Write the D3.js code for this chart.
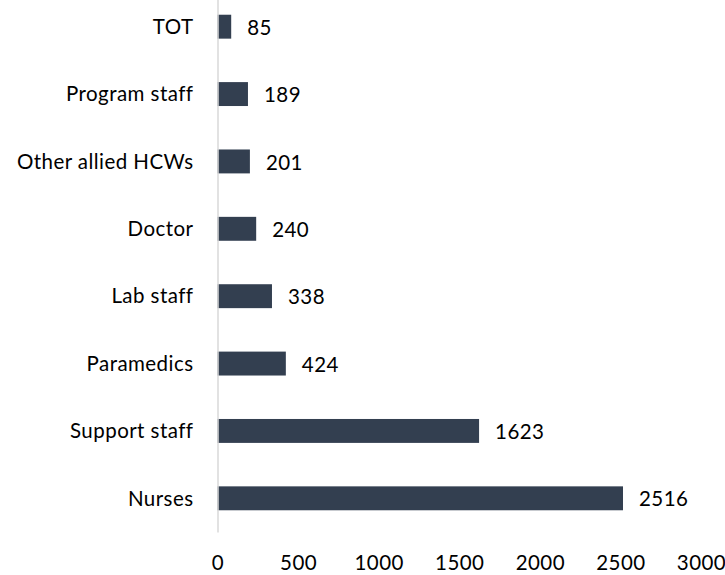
<!DOCTYPE html>
<html>
<head>
<meta charset="utf-8">
<script src="https://cdn.jsdelivr.net/npm/d3@7"></script>
<style>
  body { margin: 0; background: #fff; }
  svg text { font-family: Lato, "Open Sans", sans-serif; font-size: 20.5px; letter-spacing: 0.45px; fill: #000; }
</style>
</head>
<body>
<svg id="chart" width="725" height="575"></svg>
<script>
var categories = ["TOT", "Program staff", "Other allied HCWs", "Doctor", "Lab staff", "Paramedics", "Support staff", "Nurses"];
var values = [85, 189, 201, 240, 338, 424, 1623, 2516];
var xTicks = [0, 500, 1000, 1500, 2000, 2500, 3000];

var svg = d3.select("#chart");

var x = d3.scaleLinear()
    .domain([0, 3000])
    .range([217.5, 701]);
var y = d3.scaleBand()
    .domain(categories)
    .range([-7, 532])
    .paddingInner(0.645)
    .paddingOuter(0.3225);

var data = categories.map(function (c, i) { return { name: c, value: values[i] }; });

// bars
svg.append("g").selectAll("rect")
    .data(data)
    .enter().append("rect")
    .attr("x", x(0))
    .attr("y", function (d) { return y(d.name); })
    .attr("width", function (d) { return x(d.value) - x(0); })
    .attr("height", y.bandwidth())
    .attr("fill", "#333f50");

// value labels
svg.append("g").selectAll("text")
    .data(data)
    .enter().append("text")
    .attr("x", function (d) { return x(d.value) + 16; })
    .attr("y", function (d) { return y(d.name) + y.bandwidth() / 2 + 1; })
    .attr("dy", "0.35em")
    .text(function (d) { return d.value; });

// y axis
var yAxis = svg.append("g")
    .attr("transform", "translate(" + x(0) + ",0)")
    .call(d3.axisLeft(y).tickSize(0).tickPadding(24));
yAxis.select(".domain").attr("stroke", "#d9d9d9").attr("stroke-width", 1.5);
yAxis.selectAll("text")
    .attr("font-size", null).attr("font-family", null)
    .attr("dy", "0.35em");

// x axis labels only
var xAxis = svg.append("g")
    .attr("transform", "translate(0,545)")
    .call(d3.axisBottom(x).tickValues(xTicks).tickFormat(d3.format("d")).tickSize(0).tickPadding(0));
xAxis.select(".domain").remove();
xAxis.selectAll("text")
    .attr("font-size", null).attr("font-family", null)
    .attr("dy", "0.35em").attr("y", 18);
</script>
</body>
</html>
